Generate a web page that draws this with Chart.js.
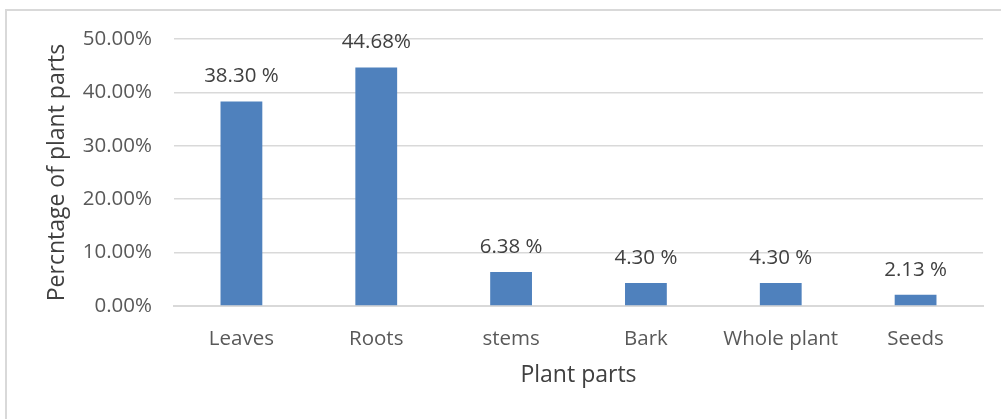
<!DOCTYPE html>
<html>
<head>
<meta charset="utf-8">
<script src="https://cdn.jsdelivr.net/npm/chart.js@4"></script>
<style>
  html, body { margin: 0; padding: 0; background: #fff; }
  #marco { position: absolute; left: 5px; top: 9px; width: 1000px; height: 420px;
           border-top: 2px solid #d9d9d9; border-left: 2px solid #d9d9d9; }
  #caja { position: absolute; left: 0; top: 0; width: 1001px; height: 419px; }
</style>
</head>
<body>
<div id="marco"></div>
<div id="caja"><canvas id="grafica" width="1001" height="419"></canvas></div>
<script>
// datos
const partes = ["Leaves", "Roots", "stems", "Bark", "Whole plant", "Seeds"];
const porcentajes = [38.30, 44.68, 6.38, 4.30, 4.30, 2.13];
const etiquetas = ["38.30 %", "44.68%", "6.38 %", "4.30 %", "4.30 %", "2.13 %"];
const ticksY = [0, 10, 20, 30, 40, 50];

const fuente = "'Open Sans', sans-serif";

// pinta el texto encima de cada barra
const etiquetasPlugin = {
    id: 'etiquetas',
    afterDatasetsDraw(chart) {
        const ctx = chart.ctx;
        const meta = chart.getDatasetMeta(0);
        ctx.save();
        ctx.font = "20.5px " + fuente;
        ctx.fillStyle = "#404040";
        ctx.textAlign = "center";
        ctx.textBaseline = "alphabetic";
        meta.data.forEach(function (barra, i) {
            ctx.fillText(etiquetas[i], barra.x, barra.y - 19);
        });
        ctx.restore();
    }
};

var barData = {
    labels: partes,
    datasets: [{
        data: porcentajes,
        backgroundColor: "#4f81bd",
        borderWidth: 0,
        categoryPercentage: 1,
        barPercentage: 0.31
    }]
};

var barOptions = {
    responsive: false,
    animation: false,
    layout: { padding: { top: 39, right: 18, bottom: 0, left: 0 } },
    plugins: { legend: { display: false }, tooltip: { enabled: false } },
    scales: {
        x: {
            grid: { display: false, drawTicks: false },
            border: { display: true, color: "#d9d9d9", width: 2 },
            ticks: { padding: 21, color: "#595959", font: { family: fuente, size: 20.5 } },
            title: { display: true, text: "Plant parts", color: "#404040",
                     font: { family: fuente, size: 23 }, padding: { top: 0, bottom: 30 } },
            afterFit: function (s) { s.height = 113; }
        },
        y: {
            min: 0,
            max: 50,
            afterBuildTicks: function (s) { s.ticks = ticksY.map(v => ({ value: v })); },
            grid: { color: "#d9d9d9", lineWidth: 1.5, drawTicks: false },
            border: { display: false },
            ticks: {
                padding: 22, color: "#595959", font: { family: fuente, size: 20.5 },
                callback: function (v) { return v.toFixed(2) + "%"; }
            },
            title: { display: true, text: "Percntage of plant parts", color: "#404040",
                     font: { family: fuente, size: 23 }, padding: { top: 44, bottom: 0 } },
            afterFit: function (s) { s.width = 174; }
        }
    }
};

var barChart = new Chart("grafica", {
    type: 'bar',
    data: barData,
    options: barOptions,
    plugins: [etiquetasPlugin]
});
</script>
</body>
</html>
